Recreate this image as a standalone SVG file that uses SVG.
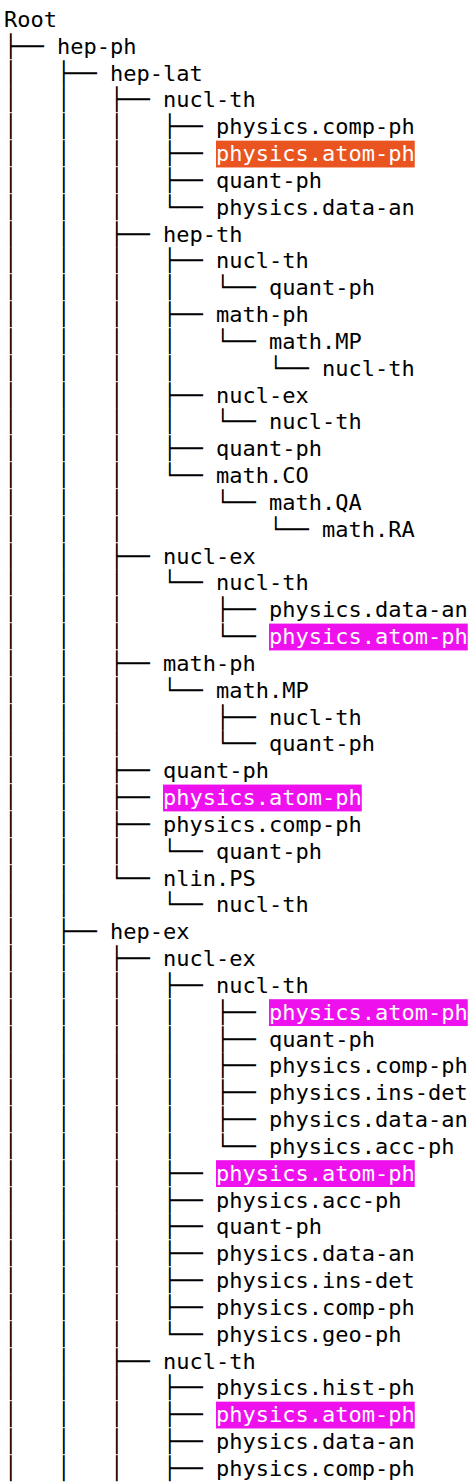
<svg xmlns="http://www.w3.org/2000/svg" width="474" height="1482" viewBox="0 0 474 1482">
<style>
text{font-family:"DejaVu Sans Mono","Liberation Mono",monospace;font-size:22px;fill:#000;white-space:pre}
.hl text{fill:#fff}
.or{fill:#e95420}
.mg{fill:#ee11ee}
</style>
<rect width="474" height="1482" fill="#fff"/>
<g id="connectors" xml:space="preserve">
<text x="4" y="53.83">├── </text>
<text x="4" y="80.66">│   ├── </text>
<text x="4" y="107.49">│   │   ├── </text>
<text x="4" y="134.32">│   │   │   ├── </text>
<text x="4" y="161.15">│   │   │   ├── </text>
<text x="4" y="187.98">│   │   │   ├── </text>
<text x="4" y="214.81">│   │   │   └── </text>
<text x="4" y="241.64">│   │   ├── </text>
<text x="4" y="268.47">│   │   │   ├── </text>
<text x="4" y="295.30">│   │   │   │   └── </text>
<text x="4" y="322.13">│   │   │   ├── </text>
<text x="4" y="348.96">│   │   │   │   └── </text>
<text x="4" y="375.79">│   │   │   │       └── </text>
<text x="4" y="402.62">│   │   │   ├── </text>
<text x="4" y="429.45">│   │   │   │   └── </text>
<text x="4" y="456.28">│   │   │   ├── </text>
<text x="4" y="483.11">│   │   │   └── </text>
<text x="4" y="509.94">│   │   │       └── </text>
<text x="4" y="536.77">│   │   │           └── </text>
<text x="4" y="563.60">│   │   ├── </text>
<text x="4" y="590.43">│   │   │   └── </text>
<text x="4" y="617.26">│   │   │       ├── </text>
<text x="4" y="644.09">│   │   │       └── </text>
<text x="4" y="670.92">│   │   ├── </text>
<text x="4" y="697.75">│   │   │   └── </text>
<text x="4" y="724.58">│   │   │       ├── </text>
<text x="4" y="751.41">│   │   │       └── </text>
<text x="4" y="778.24">│   │   ├── </text>
<text x="4" y="805.07">│   │   ├── </text>
<text x="4" y="831.90">│   │   ├── </text>
<text x="4" y="858.73">│   │   │   └── </text>
<text x="4" y="885.56">│   │   └── </text>
<text x="4" y="912.39">│   │       └── </text>
<text x="4" y="939.22">│   ├── </text>
<text x="4" y="966.05">│   │   ├── </text>
<text x="4" y="992.88">│   │   │   ├── </text>
<text x="4" y="1019.71">│   │   │   │   ├── </text>
<text x="4" y="1046.54">│   │   │   │   ├── </text>
<text x="4" y="1073.37">│   │   │   │   ├── </text>
<text x="4" y="1100.20">│   │   │   │   ├── </text>
<text x="4" y="1127.03">│   │   │   │   ├── </text>
<text x="4" y="1153.86">│   │   │   │   └── </text>
<text x="4" y="1180.69">│   │   │   ├── </text>
<text x="4" y="1207.52">│   │   │   ├── </text>
<text x="4" y="1234.35">│   │   │   ├── </text>
<text x="4" y="1261.18">│   │   │   ├── </text>
<text x="4" y="1288.01">│   │   │   ├── </text>
<text x="4" y="1314.84">│   │   │   ├── </text>
<text x="4" y="1341.67">│   │   │   └── </text>
<text x="4" y="1368.50">│   │   ├── </text>
<text x="4" y="1395.33">│   │   │   ├── </text>
<text x="4" y="1422.16">│   │   │   ├── </text>
<text x="4" y="1448.99">│   │   │   ├── </text>
<text x="4" y="1475.82">│   │   │   ├── </text>
</g>
<g id="n1"><text x="4" y="27">Root</text></g>
<g id="n2"><text x="57" y="53.83">hep-ph</text></g>
<g id="n3"><text x="110" y="80.66">hep-lat</text></g>
<g id="n4"><text x="163" y="107.49">nucl-th</text></g>
<g id="n5"><text x="216" y="134.32">physics.comp-ph</text></g>
<g id="n6" class="hl"><rect class="or" x="216" y="140.65" width="198.75" height="26.83"/><text x="216" y="161.15">physics.atom-ph</text></g>
<g id="n7"><text x="216" y="187.98">quant-ph</text></g>
<g id="n8"><text x="216" y="214.81">physics.data-an</text></g>
<g id="n9"><text x="163" y="241.64">hep-th</text></g>
<g id="n10"><text x="216" y="268.47">nucl-th</text></g>
<g id="n11"><text x="269" y="295.30">quant-ph</text></g>
<g id="n12"><text x="216" y="322.13">math-ph</text></g>
<g id="n13"><text x="269" y="348.96">math.MP</text></g>
<g id="n14"><text x="322" y="375.79">nucl-th</text></g>
<g id="n15"><text x="216" y="402.62">nucl-ex</text></g>
<g id="n16"><text x="269" y="429.45">nucl-th</text></g>
<g id="n17"><text x="216" y="456.28">quant-ph</text></g>
<g id="n18"><text x="216" y="483.11">math.CO</text></g>
<g id="n19"><text x="269" y="509.94">math.QA</text></g>
<g id="n20"><text x="322" y="536.77">math.RA</text></g>
<g id="n21"><text x="163" y="563.60">nucl-ex</text></g>
<g id="n22"><text x="216" y="590.43">nucl-th</text></g>
<g id="n23"><text x="269" y="617.26">physics.data-an</text></g>
<g id="n24" class="hl"><rect class="mg" x="269" y="623.59" width="198.75" height="26.83"/><text x="269" y="644.09">physics.atom-ph</text></g>
<g id="n25"><text x="163" y="670.92">math-ph</text></g>
<g id="n26"><text x="216" y="697.75">math.MP</text></g>
<g id="n27"><text x="269" y="724.58">nucl-th</text></g>
<g id="n28"><text x="269" y="751.41">quant-ph</text></g>
<g id="n29"><text x="163" y="778.24">quant-ph</text></g>
<g id="n30" class="hl"><rect class="mg" x="163" y="784.57" width="198.75" height="26.83"/><text x="163" y="805.07">physics.atom-ph</text></g>
<g id="n31"><text x="163" y="831.90">physics.comp-ph</text></g>
<g id="n32"><text x="216" y="858.73">quant-ph</text></g>
<g id="n33"><text x="163" y="885.56">nlin.PS</text></g>
<g id="n34"><text x="216" y="912.39">nucl-th</text></g>
<g id="n35"><text x="110" y="939.22">hep-ex</text></g>
<g id="n36"><text x="163" y="966.05">nucl-ex</text></g>
<g id="n37"><text x="216" y="992.88">nucl-th</text></g>
<g id="n38" class="hl"><rect class="mg" x="269" y="999.21" width="198.75" height="26.83"/><text x="269" y="1019.71">physics.atom-ph</text></g>
<g id="n39"><text x="269" y="1046.54">quant-ph</text></g>
<g id="n40"><text x="269" y="1073.37">physics.comp-ph</text></g>
<g id="n41"><text x="269" y="1100.20">physics.ins-det</text></g>
<g id="n42"><text x="269" y="1127.03">physics.data-an</text></g>
<g id="n43"><text x="269" y="1153.86">physics.acc-ph</text></g>
<g id="n44" class="hl"><rect class="mg" x="216" y="1160.19" width="198.75" height="26.83"/><text x="216" y="1180.69">physics.atom-ph</text></g>
<g id="n45"><text x="216" y="1207.52">physics.acc-ph</text></g>
<g id="n46"><text x="216" y="1234.35">quant-ph</text></g>
<g id="n47"><text x="216" y="1261.18">physics.data-an</text></g>
<g id="n48"><text x="216" y="1288.01">physics.ins-det</text></g>
<g id="n49"><text x="216" y="1314.84">physics.comp-ph</text></g>
<g id="n50"><text x="216" y="1341.67">physics.geo-ph</text></g>
<g id="n51"><text x="163" y="1368.50">nucl-th</text></g>
<g id="n52"><text x="216" y="1395.33">physics.hist-ph</text></g>
<g id="n53" class="hl"><rect class="mg" x="216" y="1401.66" width="198.75" height="26.83"/><text x="216" y="1422.16">physics.atom-ph</text></g>
<g id="n54"><text x="216" y="1448.99">physics.data-an</text></g>
<g id="n55"><text x="216" y="1475.82">physics.comp-ph</text></g>
</svg>
